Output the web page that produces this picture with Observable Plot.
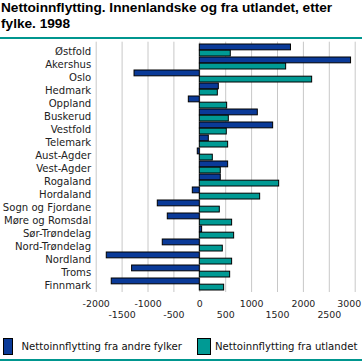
<!DOCTYPE html>
<html>
<head>
<meta charset="utf-8">
<script src="https://cdn.jsdelivr.net/npm/d3@7"></script>
<script src="https://cdn.jsdelivr.net/npm/@observablehq/plot@0.6"></script>
<style>
  html, body { margin: 0; padding: 0; background: #fff; }
  #wrap { width: 362px; }
  #title { font-family: "Liberation Sans", Arial, sans-serif; font-weight: bold; font-size: 13.65px; line-height: 15.8px; padding: 0 0 0 1px; height: 37px; box-sizing: content-box; border-bottom: 2px solid #00968f; color: #000; white-space: nowrap; }
  #chart svg { display: block; }
  #legend { position: relative; height: 28px; font-family: "DejaVu Sans", sans-serif; font-size: 10.15px; color: #111; border-bottom: 2px solid #00968f; box-sizing: border-box; }
  .sw { position: absolute; top: 5px; height: 15px; border: 1px solid #000; }
  .lt { position: absolute; top: 7px; line-height: 14px; white-space: nowrap; }
</style>
</head>
<body>
<div id="wrap">
  <div id="title">Nettoinnflytting. Innenlandske og fra utlandet, etter<br>fylke. 1998</div>
  <div id="chart"></div>
  <div id="legend"></div>
</div>
<script>
const fylker = ["Østfold","Akershus","Oslo","Hedmark","Oppland","Buskerud","Vestfold","Telemark","Aust-Agder","Vest-Agder","Rogaland","Hordaland","Sogn og Fjordane","Møre og Romsdal","Sør-Trøndelag","Nord-Trøndelag","Nordland","Troms","Finnmark"];
const fraAndreFylker = [1760, 2920, -1260, 367, -212, 1120, 1416, 174, -39, 547, 405, -135, -811, -618, 45, -715, -1796, -1307, -1700];
const fraUtlandet = [598, 1667, 2169, 348, 528, 560, 521, 547, 251, 405, 1532, 1165, 386, 624, 663, 444, 624, 586, 470];
const ticksRow1 = [-2000, -1000, 0, 1000, 2000];
const ticksRow1End = [3000];
const ticksRow2 = [-1500, -500, 500, 1500, 2500];
const gridTicks = [-2000, -1500, -1000, -500, 0, 500, 1000, 1500, 2000, 2500, 3000];
const seriesNames = ["Nettoinnflytting fra andre fylker", "Nettoinnflytting fra utlandet"];
const colors = ["#0a3a98", "#009a94"];

const data = fylker.map((f, i) => ({fylke: f, a: fraAndreFylker[i], b: fraUtlandet[i]}));

const H = 294, mT = 2.7, mB = 41;
const pIn = 0.06, pOut = 0.05;
const step = (H - mT - mB) / (fylker.length - pIn + 2 * pOut);
const half = step * (1 - pIn) / 2;
const fmt = d => String(d);
const ff = "DejaVu Sans";

const chart = Plot.plot({
  width: 362,
  height: H,
  marginTop: mT,
  marginBottom: mB,
  marginLeft: 95.7,
  marginRight: 7.3,
  style: {fontFamily: ff, fontSize: "10.1px", color: "#222", background: "#fff"},
  x: {domain: [-2000, 3000]},
  y: {domain: fylker, paddingInner: pIn, paddingOuter: pOut},
  marks: [
    Plot.gridX(gridTicks, {stroke: "#c8c8c8", strokeOpacity: 1, strokeWidth: 1}),
    Plot.barX(data, {x: "a", y: "fylke", fill: colors[0], stroke: "#000", strokeWidth: 1, insetBottom: half}),
    Plot.barX(data, {x: "b", y: "fylke", fill: colors[1], stroke: "#000", strokeWidth: 1, insetTop: half}),
    Plot.axisY({tickSize: 0, tickPadding: 5, label: null, fontFamily: ff, fontSize: 10.1, dy: 1}),
    Plot.axisX(ticksRow1, {tickSize: 0, tickPadding: 8, label: null, fontFamily: ff, fontSize: 9.4, tickFormat: fmt}),
    Plot.axisX(ticksRow1End, {tickSize: 0, tickPadding: 8, label: null, fontFamily: ff, fontSize: 9.4, tickFormat: fmt, textAnchor: "end", dx: 6}),
    Plot.axisX(ticksRow2, {tickSize: 0, tickPadding: 19, label: null, fontFamily: ff, fontSize: 9.4, tickFormat: fmt})
  ]
});
document.getElementById("chart").appendChild(chart);

const legend = document.getElementById("legend");
const swX = [2.5, 197], swW = [8, 12], txX = [21.5, 215];
seriesNames.forEach((name, i) => {
  const sw = document.createElement("div");
  sw.className = "sw";
  sw.style.left = swX[i] + "px";
  sw.style.width = swW[i] + "px";
  sw.style.background = colors[i];
  const t = document.createElement("span");
  t.className = "lt";
  t.style.left = txX[i] + "px";
  t.textContent = name;
  legend.appendChild(sw);
  legend.appendChild(t);
});
</script>
</body>
</html>
